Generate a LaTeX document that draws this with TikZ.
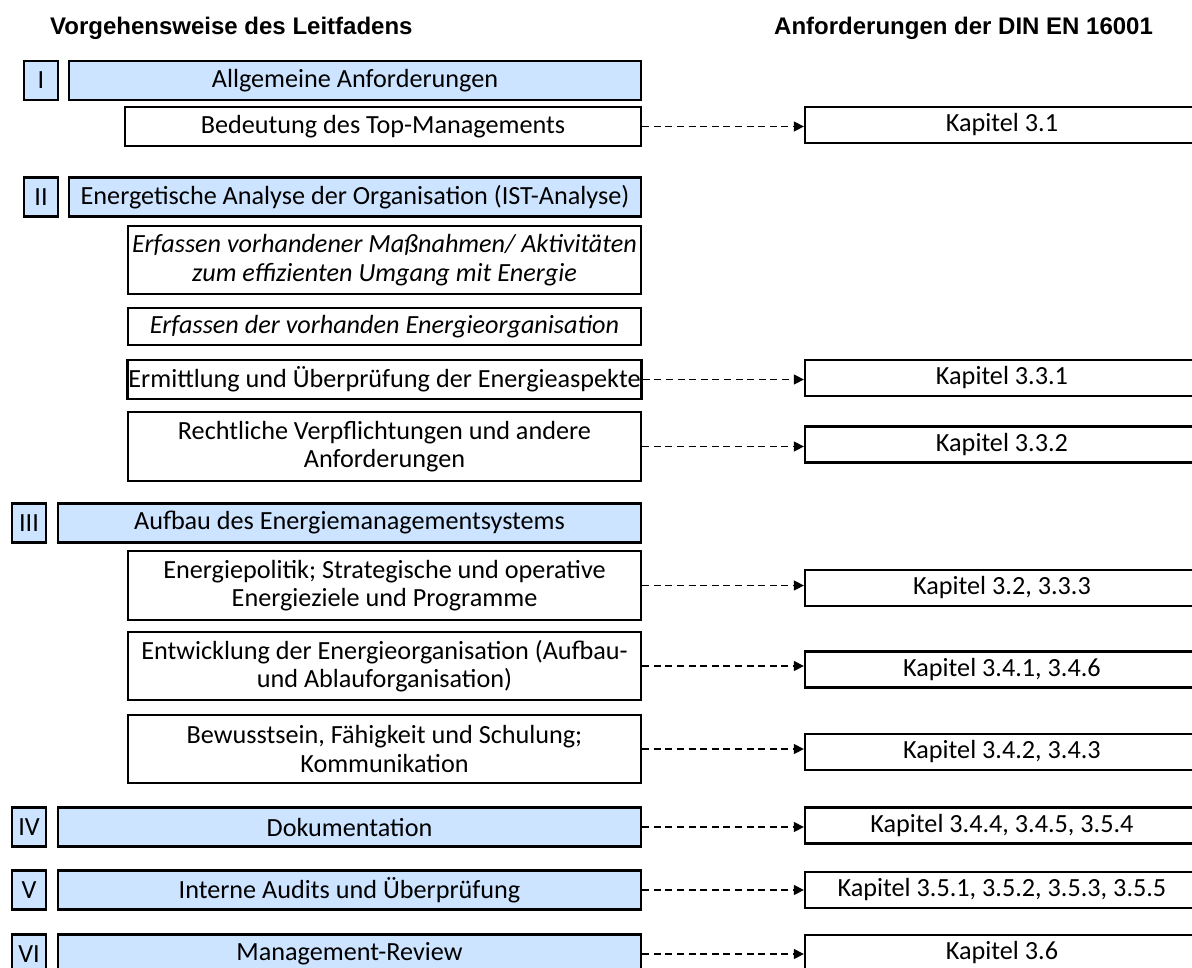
\documentclass[tikz,border=0pt]{standalone}
\usepackage{fontspec}
\setmainfont{Carlito}
\newfontfamily\headfont{Liberation Sans}
\usetikzlibrary{arrows.meta}
\definecolor{phaseblue}{RGB}{204,228,255}

\begin{document}
\begin{tikzpicture}[x=1pt, y=-1pt,
    box/.style={draw, line width=2.3pt, inner sep=1pt, align=center,
        font=\fontsize{26.2}{28.5}\selectfont},
    roman/.style={box, fill=phaseblue, minimum width=34pt, minimum height=39pt},
    phase/.style={box, fill=phaseblue, minimum width=572pt, minimum height=39pt},
    item/.style={box, fill=white, minimum width=513pt, minimum height=39pt},
    itemit/.style={item, font=\fontsize{26.2}{28.5}\selectfont\itshape},
    kap/.style={box, minimum width=394pt, minimum height=36pt},
    link/.style={line width=1.3pt, dash pattern=on 7pt off 4.6pt,
        -{Triangle[length=10pt,width=10pt]}},
    head/.style={anchor=base west, inner sep=0pt,
        font=\headfont\bfseries\fontsize{24}{28}\selectfont}]

    \useasboundingbox (0,0) rectangle (1192,967);
    \clip (0,0) rectangle (1192,967);

    \node[head] (hl) at (50,34) {Vorgehensweise des Leitfadens};
    \node[head] (hr) at (774,34) {Anforderungen der DIN EN 16001};

    % I
    \node[roman] (r1) at (41,80.5) {I};
    \node[phase] (p1) at (355,80.5) {Allgemeine Anforderungen};
    \node[item, minimum width=516pt] (top) at (383,126.5) {Bedeutung des Top-Managements};
    \node[kap] (k1) at (1002,125) {Kapitel 3.1};

    % II
    \node[roman] (r2) at (41,197) {II};
    \node[phase] (p2) at (355,197) {Energetische Analyse der Organisation (IST-Analyse)};
    \node[itemit, minimum height=68pt] (mass) at (384.5,260)
        {Erfassen vorhandener Maßnahmen/ Aktivitäten\\zum effizienten Umgang mit Energie};
    \node[itemit, minimum height=37pt] (orga) at (384.5,326.5) {Erfassen der vorhanden Energieorganisation};
    \node[item] (asp) at (384.5,379.5) {Ermittlung und Überprüfung der Energieaspekte};
    \node[item, minimum height=69pt] (recht) at (384.5,446.5)
        {Rechtliche Verpflichtungen und andere\\Anforderungen};
    \node[kap] (k331) at (1002,378) {Kapitel 3.3.1};
    \node[kap] (k332) at (1002,444.5) {Kapitel 3.3.2};

    % III
    \node[roman] (r3) at (29,523) {III};
    \node[phase, minimum width=583pt] (p3) at (349.5,523) {Aufbau des Energiemanagementsystems};
    \node[item, minimum height=69pt] (pol) at (384.5,585.5)
        {Energiepolitik; Strategische und operative\\Energieziele und Programme};
    \node[item, minimum height=68pt] (entw) at (384.5,666)
        {Entwicklung der Energieorganisation (Aufbau-\\und Ablauforganisation)};
    \node[item, minimum height=68pt] (bew) at (384.5,749)
        {Bewusstsein, Fähigkeit und Schulung;\\Kommunikation};
    \node[kap] (k32) at (1002,588) {Kapitel 3.2, 3.3.3};
    \node[kap] (k341) at (1002,669.5) {Kapitel 3.4.1, 3.4.6};
    \node[kap] (k342) at (1002,752) {Kapitel 3.4.2, 3.4.3};

    % IV - VI
    \node[roman] (r4) at (29,827) {IV};
    \node[phase, minimum width=583pt] (p4) at (349.5,827) {Dokumentation};
    \node[kap] (k344) at (1002,825.5) {Kapitel 3.4.4, 3.4.5, 3.5.4};
    \node[roman] (r5) at (29,890) {V};
    \node[phase, minimum width=583pt] (p5) at (349.5,890) {Interne Audits und Überprüfung};
    \node[kap] (k351) at (1002,890) {Kapitel 3.5.1, 3.5.2, 3.5.3, 3.5.5};
    \node[roman] (r6) at (29,954) {VI};
    \node[phase, minimum width=583pt] (p6) at (349.5,954) {Management-Review};
    \node[kap] (k36) at (1002,953) {Kapitel 3.6};

    \draw[link] (top.east) -- (top.east -| k1.west);
    \draw[link] (asp.east) -- (asp.east -| k331.west);
    \draw[link] (recht.east) -- (recht.east -| k332.west);
    \draw[link] (pol.east) -- (pol.east -| k32.west);
    \draw[link] (entw.east) -- (entw.east -| k341.west);
    \draw[link] (bew.east) -- (bew.east -| k342.west);
    \draw[link] (p4.east) -- (p4.east -| k344.west);
    \draw[link] (p5.east) -- (p5.east -| k351.west);
    \draw[link] (p6.east) -- (p6.east -| k36.west);
\end{tikzpicture}
\end{document}
